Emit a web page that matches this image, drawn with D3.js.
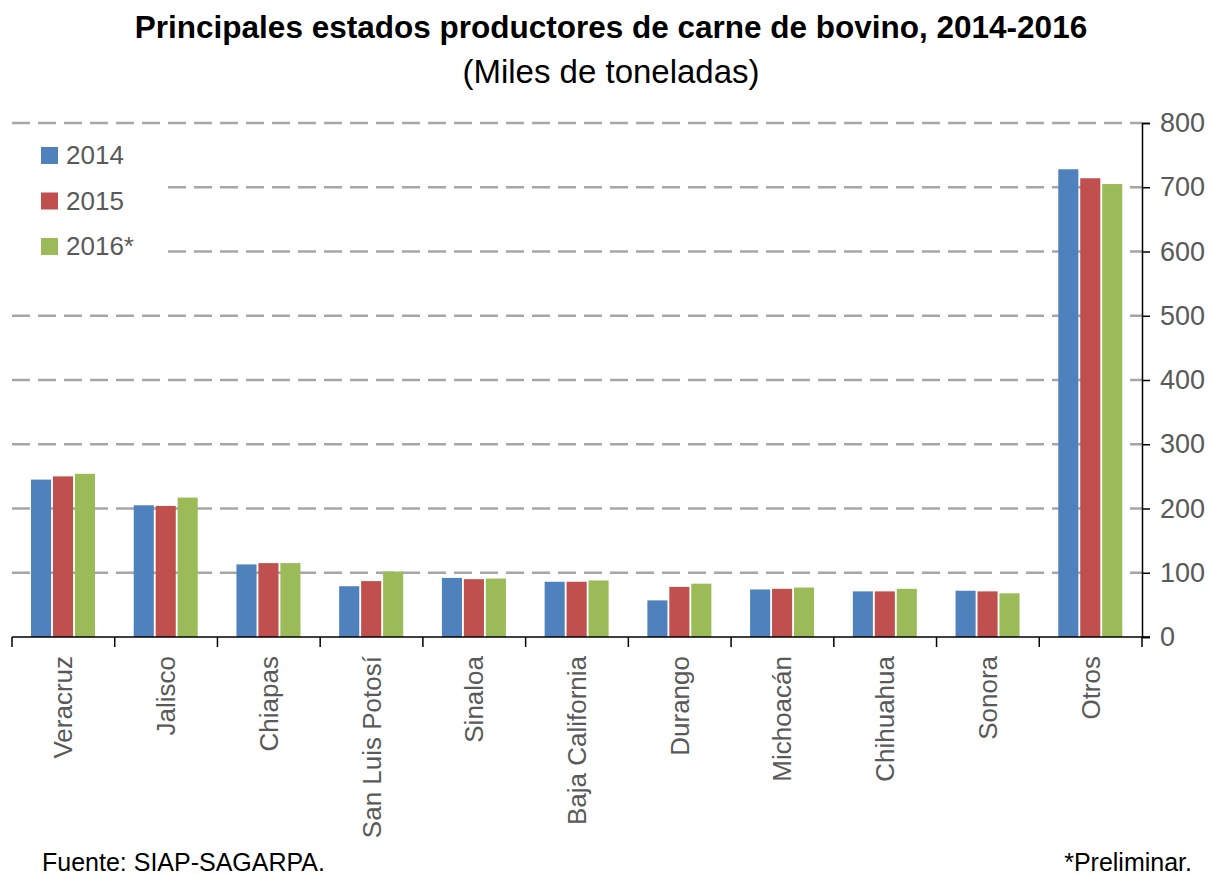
<!DOCTYPE html>
<html lang="es">
<head>
    <meta charset="UTF-8">
    <title>Principales estados productores de carne de bovino</title>
    <script src="https://d3js.org/d3.v7.min.js"></script>
    <style>
        html, body {
            margin: 0;
            background: #fff;
        }

        text {
            font-family: "Liberation Sans", Arial, sans-serif;
        }
    </style>
</head>
<body>
<div class="chart"></div>

<script>
    // datos (miles de toneladas)
    var estados = ["Veracruz", "Jalisco", "Chiapas", "San Luis Potosí", "Sinaloa", "Baja California",
        "Durango", "Michoacán", "Chihuahua", "Sonora", "Otros"];
    var anios = ["2014", "2015", "2016*"];
    var v2014 = [245, 205, 113, 79, 92, 86, 57, 74, 71, 72, 728];
    var v2015 = [250, 204, 115, 87, 90, 86, 78, 75, 71, 71, 714];
    var v2016 = [254, 217, 115, 102, 91, 88, 83, 77, 75, 68, 705];
    var yTicks = [0, 100, 200, 300, 400, 500, 600, 700, 800];
    var colores = ["#4F81BD", "#C0504D", "#9BBB59"];

    var series = [v2014, v2015, v2016];
    var data = estados.map(function (e, i) {
        return {estado: e, valores: series.map(function (s, j) {
            return {anio: anios[j], valor: s[i]};
        })};
    });

    var width = 1222, height = 875;
    var margin = {left: 12, right: 1142, top: 123, bottom: 637};

    var svg = d3.select('.chart').append('svg')
        .attr('width', width).attr('height', height);

    var x = d3.scaleBand().domain(estados).range([margin.left, margin.right]);
    var x1 = d3.scaleBand().domain(anios).range([19, 83]).paddingInner(0.085);
    var y = d3.scaleLinear().domain([0, 800]).range([margin.bottom, margin.top]);

    // lineas de cuadricula
    svg.append('g').selectAll('line')
        .data(yTicks.filter(function (d) { return d > 0; }))
        .enter().append('line')
        .attr('x1', margin.left).attr('x2', margin.right)
        .attr('y1', function (d) { return y(d); })
        .attr('y2', function (d) { return y(d); })
        .attr('stroke', '#a6a6a6')
        .attr('stroke-width', 2.5)
        .attr('stroke-dasharray', '18,8');

    // leyenda (fondo blanco tapa la cuadricula)
    var legend = svg.append('g');
    legend.append('rect')
        .attr('x', margin.left).attr('y', 132).attr('width', 155).attr('height', 132)
        .attr('fill', '#fff');
    anios.forEach(function (a, i) {
        var ly = 155 + i * 45.5;
        legend.append('rect')
            .attr('x', 41).attr('y', ly - 8).attr('width', 17).attr('height', 17)
            .attr('fill', colores[i]);
        legend.append('text')
            .attr('x', 66).attr('y', ly + 9)
            .attr('font-size', 26).attr('fill', '#595959')
            .text(a);
    });

    // barras
    var grupos = svg.append('g').selectAll('g')
        .data(data)
        .enter().append('g')
        .attr('transform', function (d) { return 'translate(' + x(d.estado) + ',0)'; });

    grupos.selectAll('rect')
        .data(function (d) { return d.valores; })
        .enter().append('rect')
        .attr('x', function (d) { return x1(d.anio); })
        .attr('width', x1.bandwidth())
        .attr('y', function (d) { return y(d.valor); })
        .attr('height', function (d) { return y(0) - y(d.valor); })
        .attr('fill', function (d, i) { return colores[i]; });

    // eje x
    var xAxis = svg.append('g').attr('transform', 'translate(0,' + margin.bottom + ')');
    xAxis.append('line')
        .attr('x1', margin.left).attr('x2', margin.right + 8)
        .attr('stroke', '#000').attr('stroke-width', 1.5);
    xAxis.selectAll('.tk')
        .data(estados.concat(['fin']))
        .enter().append('line')
        .attr('class', 'tk')
        .attr('x1', function (d, i) { return margin.left + i * x.step(); })
        .attr('x2', function (d, i) { return margin.left + i * x.step(); })
        .attr('y1', 0).attr('y2', 10)
        .attr('stroke', '#000').attr('stroke-width', 1.5);
    xAxis.selectAll('.lbl')
        .data(estados)
        .enter().append('text')
        .attr('class', 'lbl')
        .attr('transform', function (d) {
            return 'translate(' + (x(d) + x.bandwidth() / 2 + 9) + ',19) rotate(-90)';
        })
        .attr('text-anchor', 'end')
        .attr('font-size', 26).attr('fill', '#595959')
        .text(function (d) { return d; });

    // eje y a la derecha
    var yAxis = d3.axisRight(y).tickValues(yTicks).tickSize(8).tickPadding(10);
    var gy = svg.append('g')
        .attr('transform', 'translate(' + margin.right + ',0)')
        .call(yAxis);
    gy.select('.domain').attr('stroke', '#000').attr('stroke-width', 1.5);
    gy.selectAll('.tick line').attr('stroke', '#000').attr('stroke-width', 1.5);
    gy.selectAll('.tick text')
        .attr('font-size', 27).attr('fill', '#595959')
        .attr('font-family', '"Liberation Sans", Arial, sans-serif');

    // titulos
    svg.append('text')
        .attr('x', 611).attr('y', 38)
        .attr('text-anchor', 'middle')
        .attr('font-size', 31.5).attr('font-weight', 'bold').attr('fill', '#000')
        .text('Principales estados productores de carne de bovino, 2014-2016');
    svg.append('text')
        .attr('x', 611).attr('y', 83)
        .attr('text-anchor', 'middle')
        .attr('font-size', 33).attr('fill', '#000')
        .text('(Miles de toneladas)');

    // notas
    svg.append('text')
        .attr('x', 42).attr('y', 871)
        .attr('font-size', 25).attr('fill', '#000')
        .text('Fuente: SIAP-SAGARPA.');
    svg.append('text')
        .attr('x', 1192).attr('y', 871)
        .attr('text-anchor', 'end')
        .attr('font-size', 25).attr('fill', '#000')
        .text('*Preliminar.');
</script>
</body>
</html>
